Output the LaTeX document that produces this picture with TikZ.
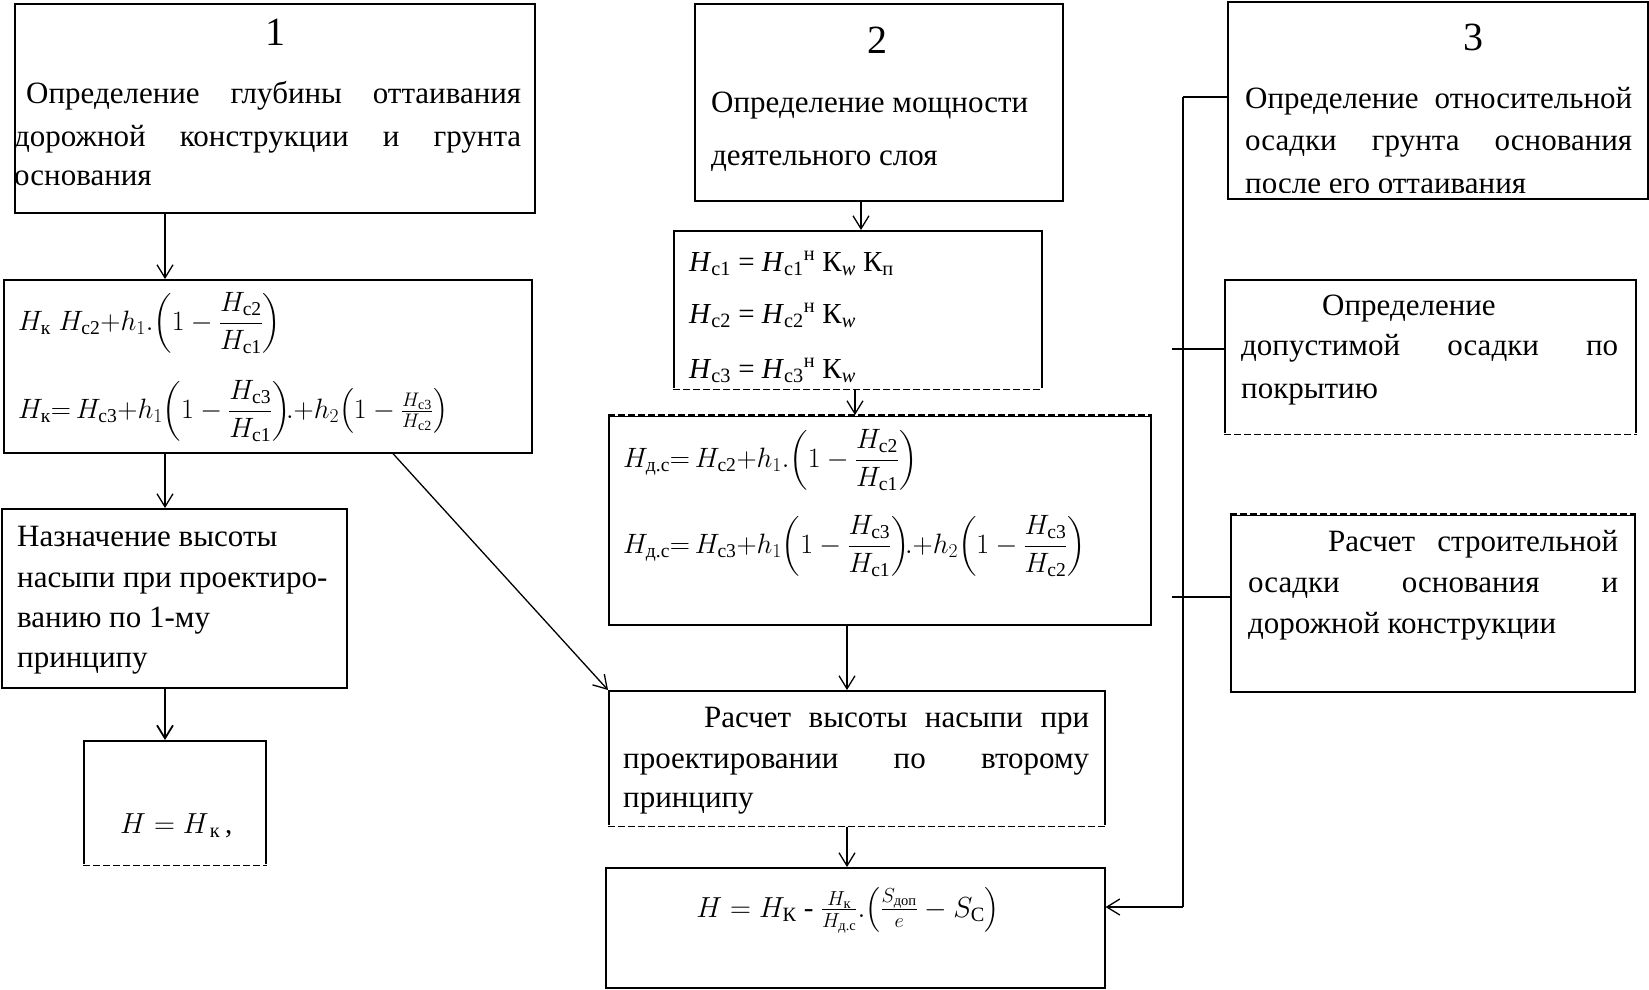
\RequirePackage{fix-cm}
\documentclass[tikz,border=0pt]{standalone}
\usepackage{amsmath}
\usepackage{fontspec}
\setmainfont{Liberation Serif}
\usetikzlibrary{arrows.meta}
\begin{document}
\begin{tikzpicture}[x=1pt,y=-1pt,
  bx/.style={draw, line width=1.6pt, inner sep=0pt, anchor=north west},
  txt/.style={inner sep=0pt, anchor=base west, font=\fontsize{31}{36}\selectfont},
  frm/.style={inner sep=0pt, anchor=base west, font=\fontsize{29}{34}\selectfont},
  mth/.style={inner sep=0pt, anchor=base west, font=\fontsize{28}{33}\selectfont},
  num/.style={inner sep=0pt, anchor=base, font=\fontsize{40}{48}\selectfont},
  arr/.style={line width=1.3pt, -{Straight Barb[length=13pt,width=16pt]}},
  dedge/.style={line width=1.4pt, dash pattern=on 7pt off 3pt},
  wipe/.style={white, line width=2.8pt},
  bus/.style={line width=2.2pt},
  tick/.style={line width=1.3pt}]
\fill[white] (0,0) rectangle (1649,989);
\useasboundingbox (0,0) rectangle (1649,989);

% ---------- boxes ----------
\node[bx, minimum width=520pt, minimum height=209pt] (b1)  at (14,3) {};
\node[bx, minimum width=528pt, minimum height=173pt] (f1)  at (3,279) {};
\node[bx, minimum width=345pt, minimum height=179pt] (n1)  at (1,508) {};
\node[bx, minimum width=182pt, minimum height=124pt] (hk)  at (83,740) {};
\node[bx, minimum width=368pt, minimum height=197pt] (b2)  at (694,3) {};
\node[bx, minimum width=368pt, minimum height=158pt] (hc)  at (673,230) {};
\node[bx, minimum width=542pt, minimum height=209pt] (hdc) at (608,415) {};
\node[bx, minimum width=496pt, minimum height=135pt] (r2)  at (608,690) {};
\node[bx, minimum width=499pt, minimum height=120pt] (hf)  at (605,867) {};
\node[bx, minimum width=420pt, minimum height=197pt] (b3)  at (1227,1) {};
\node[bx, minimum width=411pt, minimum height=154pt] (dop) at (1224,279) {};
\node[bx, minimum width=404pt, minimum height=177pt] (rs)  at (1230,514) {};

% dashed edges
\draw[wipe]  (hc.south west) -- (hc.south east);
\draw[dedge] (hc.south west) -- (hc.south east);
\draw[wipe]  (hdc.north west) -- (hdc.north east);
\draw[dedge] (hdc.north west) -- (hdc.north east);
\draw[wipe]  (dop.south west) -- (dop.south east);
\draw[dedge] (dop.south west) -- (dop.south east);
\draw[wipe]  (rs.north west) -- (rs.north east);
\draw[dedge] (rs.north west) -- (rs.north east);
\draw[wipe]  (hk.south west) -- (hk.south east);
\draw[dedge] (hk.south west) -- (hk.south east);
\draw[wipe]  (r2.south west) -- (r2.south east);
\draw[dedge] (r2.south west) -- (r2.south east);

% ---------- texts: column 1 ----------
\node[num] (t1n) at (275,45) {1};
\node[txt] (t1a) at (26,103) {\makebox[495pt][s]{Определение глубины оттаивания}};
\node[txt] (t1b) at (14,146) {\makebox[507pt][s]{дорожной конструкции и грунта}};
\node[txt] (t1c) at (14,185) {основания};

\node[mth] (f1a) at (18,330) {$H_{\text{к}}\;H_{\text{с2}}{+}h_{1}.{\left(1-\dfrac{H_{\text{с2}}}{H_{\text{с1}}}\right)}$};
\node[mth] (f1b) at (18,418) {$H_{\text{к}}{=}\,H_{\text{с3}}{+}h_{1}{\left(1-\dfrac{H_{\text{с3}}}{H_{\text{с1}}}\right)}\!.{+}h_{2}{\left(1-\frac{H_{\text{с3}}}{H_{\text{с2}}}\right)}$};

\node[txt] (n1a) at (17,546) {Назначение высоты};
\node[txt] (n1b) at (17,587) {насыпи при проектиро-};
\node[txt] (n1c) at (17,627) {ванию по 1-му};
\node[txt] (n1d) at (17,667) {принципу};

\node[frm] (hka) at (120,833) {$H = H_{\,\text{к}}$\,,};

% ---------- texts: column 2 ----------
\node[num] (t2n) at (877,53) {2};
\node[txt] (t2a) at (711,112) {Определение мощности};
\node[txt] (t2b) at (711,165) {деятельного слоя};

\node[frm] (hca) at (689,271) {\textit{H}\textsubscript{с1} = \textit{H}\textsubscript{с1}\textsuperscript{н} К\textsubscript{\textit{w}} К\textsubscript{п}};
\node[frm] (hcb) at (689,323) {\textit{H}\textsubscript{с2} = \textit{H}\textsubscript{с2}\textsuperscript{н} К\textsubscript{\textit{w}}};
\node[frm] (hcc) at (689,378) {\textit{H}\textsubscript{с3} = \textit{H}\textsubscript{с3}\textsuperscript{н} К\textsubscript{\textit{w}}};

\node[mth] (hda) at (623,467) {$H_{\text{д.с}}{=}\,H_{\text{с2}}{+}h_{1}.{\left(1-\dfrac{H_{\text{с2}}}{H_{\text{с1}}}\right)}$};
\node[mth] (hdb) at (623,553) {$H_{\text{д.с}}{=}\,H_{\text{с3}}{+}h_{1}{\left(1-\dfrac{H_{\text{с3}}}{H_{\text{с1}}}\right)}\!.{+}h_{2}{\left(1-\dfrac{H_{\text{с3}}}{H_{\text{с2}}}\right)}$};

\node[txt] (r2a) at (704,727) {\makebox[385pt][s]{Расчет высоты насыпи при}};
\node[txt] (r2b) at (623,768) {\makebox[466pt][s]{проектировании по второму}};
\node[txt] (r2c) at (623,807) {принципу};

\node[frm, anchor=base] (hfa) at (848,917) {$H = H_{\text{К}}\text{ - }\frac{H_{\text{к}}}{H_{\text{д.с}}}.{\left(\frac{S_{\text{доп}}}{e}-S_{\text{С}}\right)}$};

% ---------- texts: column 3 ----------
\node[num] (t3n) at (1473,50) {3};
\node[txt] (t3a) at (1245,108) {\makebox[387pt][s]{Определение относительной}};
\node[txt] (t3b) at (1245,150) {\makebox[387pt][s]{осадки грунта основания}};
\begin{scope}
\clip (b3.north west) rectangle (1647,192.5);
\node[txt] (t3c) at (1245,193) {после его оттаивания};
\end{scope}

\node[txt] (dpa) at (1322,315) {Определение};
\node[txt] (dpb) at (1241,355) {\makebox[377pt][s]{допустимой осадки по}};
\node[txt] (dpc) at (1241,398) {покрытию};

\node[txt] (rsa) at (1328,551) {\makebox[290pt][s]{Расчет строительной}};
\node[txt] (rsb) at (1248,592) {\makebox[370pt][s]{осадки основания и}};
\node[txt] (rsc) at (1248,633) {дорожной конструкции};

% ---------- connectors ----------
\coordinate (cx1) at (165,0);
\coordinate (cx2) at (861,0);
\coordinate (cx3) at (855,0);
\coordinate (cx4) at (847,0);
\coordinate (cdg) at (393,0);

\draw[arr] (cx1 |- b1.south) -- (cx1 |- f1.north);
\draw[arr] (cx1 |- f1.south) -- (cx1 |- n1.north);
\draw[arr, line width=1.8pt] (cx1 |- n1.south) -- (cx1 |- hk.north);
\draw[arr] (cdg |- f1.south) -- (r2.north west);

\draw[arr] (cx2 |- b2.south) -- (cx2 |- hc.north);
\draw[arr] (cx3 |- hc.south) -- (cx3 |- hdc.north);
\draw[arr] (cx4 |- hdc.south) -- (cx4 |- r2.north);
\draw[arr] (cx4 |- r2.south) -- (cx4 |- hf.north);

\coordinate (bt) at (1183,97);
\coordinate (bb) at (1183,907);
\coordinate (tk1) at (1172,349);
\coordinate (tk2) at (1172,597);
\draw[tick] (bt) -- (bt -| b3.west);
\draw[bus] (bt) -- (bb);
\draw[tick] (tk1) -- (tk1 -| dop.west);
\draw[tick] (tk2) -- (tk2 -| rs.west);
\draw[arr] (bb) -- (bb -| hf.east);
\end{tikzpicture}
\end{document}
